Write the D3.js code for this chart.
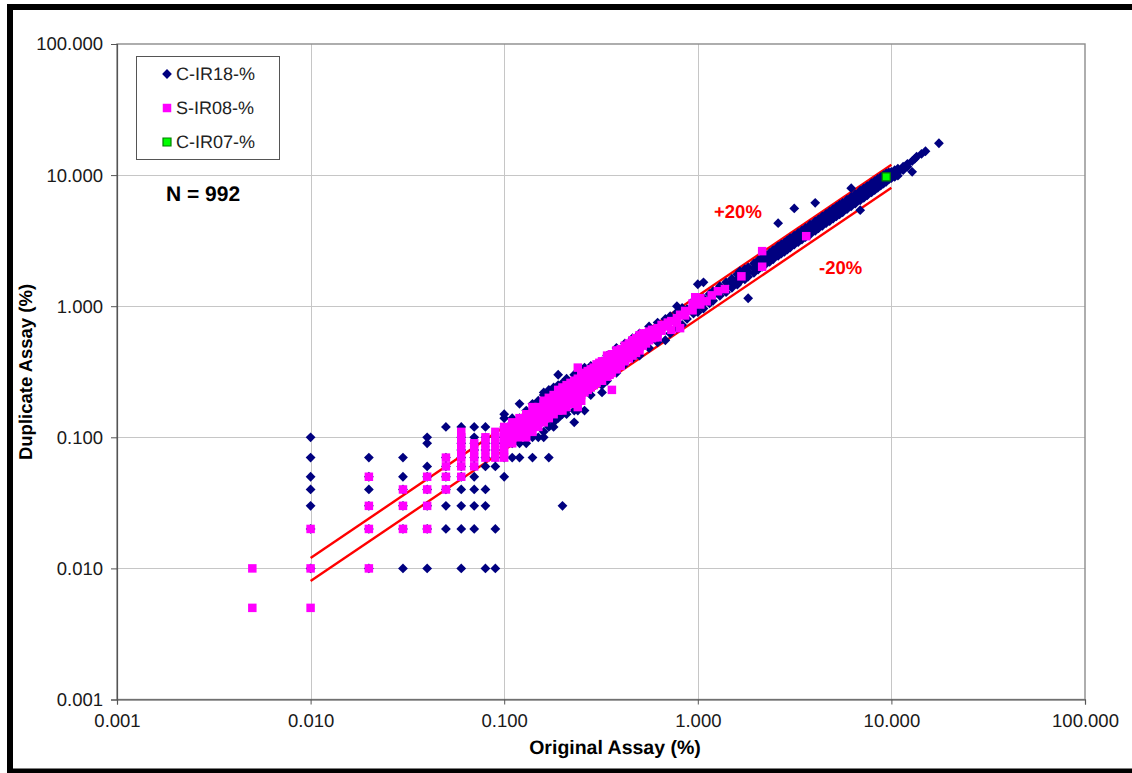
<!DOCTYPE html>
<html>
<head>
<meta charset="utf-8">
<script src="https://cdn.jsdelivr.net/npm/d3@7"></script>
<style>
  html, body { margin: 0; padding: 0; background: #fff; }
  text { font-family: "Liberation Sans", Arial, sans-serif; text-rendering: geometricPrecision; }
</style>
</head>
<body>
<div class="chart"></div>
<script>
"use strict"

const tickValues = [0.001, 0.01, 0.1, 1, 10, 100];
const seriesNames = ["C-IR18-%", "S-IR08-%", "C-IR07-%"];
const lineEnds = [0.01, 10];
const upperFactor = 1.2;
const lowerFactor = 0.8;

// low grades are reported in steps, so these are kept as columns [original, [duplicates]]
const cIr18Columns = [
  [0.01, [0.1, 0.07, 0.05, 0.04, 0.03, 0.02, 0.01]],
  [0.02, [0.07, 0.05, 0.04, 0.03, 0.02, 0.01]],
  [0.03, [0.07, 0.05, 0.04, 0.03, 0.02, 0.01]],
  [0.04, [0.1, 0.09, 0.06, 0.05, 0.04, 0.03, 0.02, 0.01]],
  [0.05, [0.12, 0.07, 0.06, 0.05, 0.04, 0.03, 0.02]],
  [0.06, [0.12, 0.1, 0.09, 0.08, 0.07, 0.06, 0.05, 0.04, 0.03, 0.02, 0.01]],
  [0.07, [0.12, 0.1, 0.09, 0.08, 0.07, 0.06, 0.05, 0.04, 0.03, 0.02]],
  [0.08, [0.12, 0.1, 0.09, 0.08, 0.07, 0.06, 0.04, 0.03, 0.01]],
  [0.09, [0.1, 0.09, 0.08, 0.07, 0.06, 0.02, 0.01]],
  [0.1, [0.15, 0.14, 0.12, 0.09, 0.07, 0.05]],
  [0.11, [0.14, 0.13, 0.09, 0.07]],
  [0.12, [0.18, 0.14, 0.09, 0.07]],
  [0.13, [0.16, 0.09]],
  [0.14, [0.18, 0.16, 0.1, 0.07]],
  [0.15, [0.19, 0.1]],
  [0.16, [0.22, 0.21, 0.1, 0.11]],
  [0.17, [0.23, 0.22, 0.12, 0.07]],
  [0.18, [0.24, 0.12, 0.13]],
  [0.19, [0.3, 0.25, 0.14]],
  [0.2, [0.26, 0.15, 0.03]],
  [0.21, [0.28, 0.16, 0.15]],
  [0.23, [0.3, 0.13, 0.16]],
  [0.24, [0.31, 0.16]],
  [0.26, [0.34, 0.16]],
  [0.28, [0.35, 0.21]],
  [0.32, [0.22, 0.25, 0.38]],
  [0.34, [0.27, 0.42]],
  [0.38, [0.48, 0.31]],
  [0.42, [0.36, 0.52]],
  [0.46, [0.57, 0.4]],
  [0.5, [0.62, 0.42]],
  [0.56, [0.7, 0.48]],
  [0.62, [0.75, 0.53]],
  [0.68, [0.55, 0.8]],
  [0.72, [0.84, 0.62]],
  [0.78, [1.0, 0.9, 0.68]],
  [0.83, [0.97, 0.72]],
  [0.88, [0.95, 0.8]],
  [0.95, [1.1, 1.0, 0.88]],
  [1, [1.47, 1.12, 1.0, 0.9]],
  [1.07, [1.52, 1.15, 1.05, 0.96]],
  [1.15, [1.24, 1.12, 1.05]],
  [1.2, [1.3, 1.2, 1.1]],
  [1.3, [1.42, 1.3, 1.2]],
  [1.4, [1.52, 1.4, 1.28]],
  [1.5, [1.62, 1.5, 1.38]],
  [1.6, [1.75, 1.6, 1.46]],
  [1.65, [1.85, 1.68, 1.55]],
  [1.75, [1.92, 1.75, 1.6]],
  [1.82, [1.15, 1.98, 1.82, 1.68]],
  [1.95, [2.12, 1.95, 1.8]],
  [2.05, [2.24, 2.08, 1.9]],
  [2.15, [2.35, 2.15, 2.0]],
  [2.25, [2.45, 2.28, 2.1]],
  [2.35, [2.55, 2.38, 2.18]],
  [2.45, [2.68, 2.5, 2.28]],
  [2.6, [4.3, 2.86, 2.65, 2.42]],
  [2.7, [2.96, 2.74, 2.52]],
  [2.8, [3.05, 2.85, 2.6]],
  [2.9, [3.18, 2.95, 2.7]],
  [3, [3.3, 3.05, 2.8]],
  [3.15, [5.57, 3.46, 3.2, 2.95]],
  [3.3, [3.62, 3.36, 3.08]],
  [3.45, [3.78, 3.5, 3.22]],
  [3.6, [3.95, 3.66, 3.36]],
  [3.8, [4.18, 3.88, 3.52]],
  [4.04, [6.14, 4.44, 4.1, 3.75]],
  [4.2, [4.6, 4.28, 3.92]],
  [4.4, [4.85, 4.48, 4.1]],
  [4.6, [5.05, 4.68, 4.3]],
  [4.8, [5.28, 4.9, 4.46]],
  [5, [5.5, 5.1, 4.66]],
  [5.2, [5.72, 5.3, 4.85]],
  [5.4, [5.95, 5.5, 5.02]],
  [5.6, [6.15, 5.7, 5.2]],
  [5.9, [6.5, 6.0, 5.5]],
  [6.2, [7.95, 6.82, 6.3, 5.78]],
  [6.5, [7.15, 6.65, 6.05]],
  [6.9, [7.6, 7.0, 6.42, 5.4]],
  [7.2, [7.9, 7.35, 6.7]],
  [7.5, [8.25, 7.65, 7.0]],
  [7.9, [8.7, 8.05, 7.4]],
  [8.2, [9.0, 8.35, 7.7]],
  [8.5, [9.35, 8.65, 8.0]],
  [8.8, [9.65, 9.0, 8.3]],
  [9.1, [10.0, 9.3, 8.6]],
  [9.4, [10.3, 9.6, 8.9]],
  [9.7, [10.5, 9.9, 9.3]],
  [10, [10.6, 10.0, 9.5]],
  [10.4, [10.9, 10.2, 9.7]],
  [10.8, [11.2, 10.5, 9.9]],
  [11.5, [11.6, 10.9]],
  [12.1, [12.2, 11.6]],
  [12.8, [12.8, 10.6]],
  [13.2, [13.3]],
  [13.5, [13.8]],
  [14.3, [14.5]],
  [15, [15.2]],
  [17.6, [17.5]]
];

const sIr08Columns = [
  [0.005, [0.01, 0.005]],
  [0.01, [0.02, 0.01, 0.005]],
  [0.02, [0.05, 0.03, 0.02, 0.01]],
  [0.03, [0.04, 0.03, 0.02]],
  [0.04, [0.05, 0.04, 0.03, 0.02]],
  [0.05, [0.07, 0.06, 0.05, 0.04]],
  [0.06, [0.11, 0.1, 0.09, 0.08, 0.07, 0.06, 0.05]],
  [0.07, [0.09, 0.08, 0.07, 0.06]],
  [0.08, [0.1, 0.09, 0.08, 0.07]],
  [0.09, [0.11, 0.1, 0.09, 0.08, 0.07]],
  [0.1, [0.12, 0.11, 0.1, 0.09, 0.08, 0.07]],
  [0.11, [0.13, 0.12, 0.11, 0.1, 0.09]],
  [0.12, [0.14, 0.13, 0.12, 0.11, 0.1]],
  [0.13, [0.15, 0.14, 0.13, 0.12, 0.11, 0.1]],
  [0.14, [0.17, 0.15, 0.14, 0.13, 0.12, 0.11]],
  [0.15, [0.17, 0.16, 0.15, 0.14, 0.13, 0.12]],
  [0.16, [0.19, 0.18, 0.17, 0.16, 0.15, 0.14, 0.13]],
  [0.17, [0.2, 0.19, 0.18, 0.17, 0.16, 0.15, 0.14]],
  [0.18, [0.21, 0.2, 0.19, 0.18, 0.17, 0.16, 0.15]],
  [0.19, [0.23, 0.21, 0.2, 0.19, 0.18, 0.17, 0.16]],
  [0.2, [0.24, 0.22, 0.21, 0.2, 0.19, 0.18, 0.16]],
  [0.21, [0.25, 0.23, 0.22, 0.21, 0.2, 0.19, 0.17]],
  [0.22, [0.26, 0.24, 0.22, 0.21, 0.2, 0.18]],
  [0.23, [0.27, 0.25, 0.23, 0.22, 0.2, 0.19]],
  [0.24, [0.34, 0.28, 0.27, 0.25, 0.24, 0.22, 0.2, 0.17]],
  [0.25, [0.3, 0.28, 0.26, 0.25, 0.23, 0.21, 0.19]],
  [0.26, [0.31, 0.3, 0.28, 0.26, 0.24, 0.22]],
  [0.27, [0.32, 0.3, 0.29, 0.27, 0.25, 0.23]],
  [0.28, [0.33, 0.32, 0.3, 0.28, 0.26, 0.24]],
  [0.29, [0.34, 0.33, 0.31, 0.29, 0.27, 0.25]],
  [0.3, [0.36, 0.34, 0.32, 0.3, 0.28, 0.26]],
  [0.31, [0.37, 0.35, 0.33, 0.31, 0.29, 0.27]],
  [0.32, [0.38, 0.36, 0.34, 0.32, 0.3, 0.27]],
  [0.34, [0.42, 0.4, 0.37, 0.34, 0.32, 0.29]],
  [0.35, [0.41, 0.38, 0.35, 0.33, 0.3]],
  [0.36, [0.43, 0.42, 0.39, 0.36, 0.33, 0.31, 0.23]],
  [0.38, [0.46, 0.43, 0.41, 0.38, 0.35, 0.33]],
  [0.4, [0.47, 0.45, 0.43, 0.4, 0.37, 0.35]],
  [0.42, [0.5, 0.47, 0.44, 0.41, 0.38]],
  [0.44, [0.52, 0.49, 0.46, 0.43, 0.4]],
  [0.46, [0.55, 0.51, 0.48, 0.45, 0.42]],
  [0.48, [0.57, 0.53, 0.5, 0.47, 0.44]],
  [0.5, [0.6, 0.56, 0.53, 0.49, 0.46]],
  [0.52, [0.62, 0.58, 0.54, 0.5]],
  [0.54, [0.62, 0.57, 0.52]],
  [0.56, [0.64, 0.6, 0.55]],
  [0.58, [0.66, 0.62, 0.57]],
  [0.6, [0.66, 0.62, 0.58]],
  [0.62, [0.68, 0.63, 0.58]],
  [0.65, [0.72, 0.65]],
  [0.7, [0.75, 0.7]],
  [0.73, [0.66, 0.77]],
  [0.78, [0.81, 0.75]],
  [0.81, [0.68, 0.86]],
  [0.86, [0.85, 0.92]],
  [0.94, [1.05, 0.93]],
  [0.97, [1.17, 1.1]],
  [1.03, [1.15, 1.03]],
  [1.11, [1.09]],
  [1.18, [1.21]],
  [1.27, [1.3]],
  [1.38, [1.35]],
  [1.68, [1.69]],
  [2.15, [2.63, 2.0]],
  [3.63, [3.42]]
];

const cIr07Columns = [
  [9.4, [9.7]]
];

// layout
const W = 1132, H = 773;
const plot = { left: 117, right: 1085, top: 44, bottom: 699.5 };

const svg = d3.select(".chart").append("svg")
  .attr("width", W)
  .attr("height", H)
  .style("display", "block");

const x = d3.scaleLog().domain([0.001, 100]).range([plot.left, plot.right]);
const y = d3.scaleLog().domain([0.001, 100]).range([plot.bottom, plot.top]);

function flatten(cols) {
  return cols.flatMap(function (c) {
    return c[1].map(function (v) { return [c[0], v]; });
  });
}

// black frame round the picture, open on the right
svg.append("path")
  .attr("d", "M1132,7 H10 V771.5 H1132")
  .attr("fill", "none")
  .attr("stroke", "#000")
  .attr("stroke-width", 6);

// gridlines
const gridColor = "#c6c6c6";
svg.append("g").selectAll("line").data(tickValues.slice(1, 5)).enter().append("line")
  .attr("x1", plot.left).attr("x2", plot.right)
  .attr("y1", function (d) { return Math.round(y(d)) + 0.5; })
  .attr("y2", function (d) { return Math.round(y(d)) + 0.5; })
  .attr("stroke", gridColor);
svg.append("g").selectAll("line").data(tickValues.slice(1, 5)).enter().append("line")
  .attr("y1", plot.top).attr("y2", plot.bottom)
  .attr("x1", function (d) { return Math.round(x(d)) + 0.5; })
  .attr("x2", function (d) { return Math.round(x(d)) + 0.5; })
  .attr("stroke", gridColor);

// plot border
svg.append("rect")
  .attr("x", plot.left).attr("y", plot.top)
  .attr("width", plot.right - plot.left).attr("height", plot.bottom - plot.top)
  .attr("fill", "none").attr("stroke", "#8c8c8c").attr("stroke-width", 1.4);

// axes
const fmt = d3.format(".3f");
const xAxis = d3.axisBottom(x).tickValues(tickValues).tickFormat(fmt).tickSize(5).tickPadding(9);
const yAxis = d3.axisLeft(y).tickValues(tickValues).tickFormat(fmt).tickSize(6).tickPadding(8);
const gx = svg.append("g").attr("transform", "translate(0," + plot.bottom + ")").call(xAxis);
const gy = svg.append("g").attr("transform", "translate(" + plot.left + ",0)").call(yAxis);
[gx, gy].forEach(function (g) {
  g.selectAll("text").style("font-size", "18.5px").attr("fill", "#1a1a1a").style("font-family", "'Liberation Sans'");
  g.selectAll(".tick line").attr("stroke", "#555");
  g.select(".domain").attr("stroke", "#555").attr("stroke-width", 1.2);
});

// +/-20% lines
const line = d3.line().x(function (d) { return x(d[0]); }).y(function (d) { return y(d[1]); });
[upperFactor, lowerFactor].forEach(function (f) {
  svg.append("path")
    .datum(lineEnds.map(function (v) { return [v, v * f]; }))
    .attr("d", line)
    .attr("fill", "none")
    .attr("stroke", "#ff0000")
    .attr("stroke-width", 2.4);
});

const diamond = d3.symbol().type(d3.symbolSquare).size(48);
const square = d3.symbol().type(d3.symbolSquare).size(72);
const greenSquare = d3.symbol().type(d3.symbolSquare).size(64);

// points
svg.append("g").selectAll("path").data(flatten(cIr18Columns)).enter().append("path")
  .attr("d", diamond)
  .attr("fill", "#000080")
  .attr("transform", function (d) { return "translate(" + x(d[0]) + "," + y(d[1]) + ") rotate(45)"; });

svg.append("g").selectAll("path").data(flatten(sIr08Columns)).enter().append("path")
  .attr("d", square)
  .attr("fill", "#ff00ff")
  .attr("transform", function (d) { return "translate(" + x(d[0]) + "," + y(d[1]) + ")"; });

svg.append("g").selectAll("path").data(flatten(cIr07Columns)).enter().append("path")
  .attr("d", greenSquare)
  .attr("fill", "#00ff00")
  .attr("stroke", "#008000")
  .attr("stroke-width", 1.2)
  .attr("transform", function (d) { return "translate(" + x(d[0]) + "," + y(d[1]) + ")"; });

// legend
svg.append("rect")
  .attr("x", 136.5).attr("y", 56.5).attr("width", 143).attr("height", 103)
  .attr("fill", "#fff").attr("stroke", "#555").attr("stroke-width", 1);

const legendY = [74, 108, 142];
seriesNames.forEach(function (name, i) {
  const m = svg.append("path").attr("transform", "translate(167," + legendY[i] + ")" + (i == 0 ? " rotate(45)" : ""));
  if (i == 0) m.attr("d", diamond).attr("fill", "#000080");
  if (i == 1) m.attr("d", square).attr("fill", "#ff00ff");
  if (i == 2) m.attr("d", greenSquare).attr("fill", "#00ff00").attr("stroke", "#008000").attr("stroke-width", 1.2);
  svg.append("text")
    .attr("x", 176).attr("y", legendY[i] + 6)
    .attr("font-size", 18).attr("fill", "#222")
    .text(name);
});

// labels
function label(text, px, py, size, color) {
  return svg.append("text")
    .attr("x", px).attr("y", py)
    .attr("font-size", size).attr("font-weight", "bold")
    .attr("fill", color)
    .text(text);
}
label("N = 992", 166, 201, 21, "#000");
label("+20%", 714, 218, 18.5, "#ff0000");
label("-20%", 819, 274, 18.5, "#ff0000");
label("Original Assay (%)", 615, 754, 19.5, "#000").attr("text-anchor", "middle");
label("Duplicate Assay (%)", 0, 0, 18.5, "#000")
  .attr("text-anchor", "middle")
  .attr("transform", "translate(32,372) rotate(-90)");
</script>
</body>
</html>
